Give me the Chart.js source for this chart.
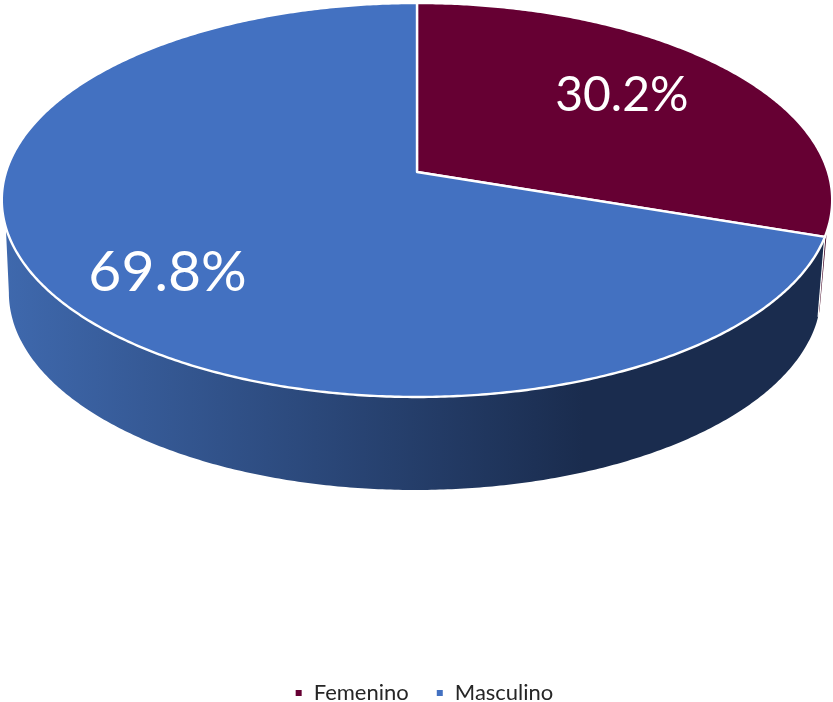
<!DOCTYPE html>
<html>
<head>
<meta charset="utf-8">
<style>
	html, body { margin: 0; padding: 0; background: #fff; }
	canvas { display: block; }
</style>
<script src="https://cdn.jsdelivr.net/npm/chart.js@4"></script>
</head>
<body>
<canvas id="sexChart" width="833" height="702"></canvas>
<script>
const categories = ['Femenino', 'Masculino'];
const sexValues = [30.2, 69.8];
const sliceColors = ['#660033', '#4371C1'];

const deg = Math.PI / 180;

// top face of the tilted pie, unit circle -> picture (perspective)
const top3d = { cx: 417, cy: 172, c: 411, a: 168.6, k: -0.142 };
// bottom rim of the side wall
const low3d = { cx: 415, cy: 265, c: 402, a: 155.4, k: -0.142 };

function project(p, angle, r) {
	const X = Math.cos(angle) * r;
	const Y = Math.sin(angle) * r;
	const d = 1 + p.k * Y;
	return { x: p.cx + p.c * X / d, y: (p.cy + p.a * Y) / d };
}

// angle measured clockwise from 12 o'clock
function fromTop(d) {
	return d * deg - Math.PI / 2;
}

function rim(ctx, p, from, to) {
	const steps = Math.max(2, Math.ceil(Math.abs(to - from) / (0.5 * deg)));
	for (let i = 0; i <= steps; i++) {
		const pt = project(p, from + (to - from) * i / steps, 1);
		ctx.lineTo(pt.x, pt.y);
	}
}

function wall(ctx, upFrom, upTo, lowFrom, lowTo, fill) {
	ctx.beginPath();
	rim(ctx, top3d, upFrom, upTo);
	rim(ctx, low3d, lowTo, lowFrom);
	ctx.closePath();
	ctx.fillStyle = fill;
	ctx.fill();
}

const pie3d = {
	id: 'pie3d',
	beforeDatasetsDraw(chart) {
		const ctx = chart.ctx;
		const arcs = chart.getDatasetMeta(0).data;
		const split = arcs[0].endAngle;

		ctx.save();

		const redWall = ctx.createLinearGradient(780, 0, 833, 0);
		redWall.addColorStop(0, '#4d0026');
		redWall.addColorStop(1, '#3d001f');
		wall(ctx, fromTop(94), split, fromTop(103), fromTop(105), redWall);

		const blueWall = ctx.createLinearGradient(0, 0, 833, 0);
		blueWall.addColorStop(0, '#3F69AE');
		blueWall.addColorStop(0.7, '#1A2C4E');
		blueWall.addColorStop(1, '#1A2C4E');
		wall(ctx, split, fromTop(254), fromTop(105), fromTop(262), blueWall);

		// white seam on the wall between the two slices
		const a = project(top3d, split, 1);
		const b = project(low3d, fromTop(105), 1);
		ctx.beginPath();
		ctx.moveTo(a.x, a.y);
		ctx.lineTo(b.x, b.y);
		ctx.strokeStyle = '#fff';
		ctx.lineWidth = 1.2;
		ctx.stroke();

		// top faces
		arcs.forEach(function(arc, i) {
			const c = project(top3d, 0, 0);
			ctx.beginPath();
			ctx.moveTo(c.x, c.y);
			rim(ctx, top3d, arc.startAngle, arc.endAngle);
			ctx.closePath();
			ctx.fillStyle = sliceColors[i];
			ctx.fill();
			ctx.strokeStyle = '#fff';
			ctx.lineWidth = 2.4;
			ctx.lineJoin = 'round';
			ctx.stroke();
		});

		// percentage labels
		const labelPos = [
			{ r: 0.673, shift: -2.7, size: 48 },
			{ r: 0.744, shift: -4.9, size: 57 }
		];
		ctx.fillStyle = '#fff';
		ctx.textAlign = 'center';
		ctx.textBaseline = 'middle';
		arcs.forEach(function(arc, i) {
			const mid = (arc.startAngle + arc.endAngle) / 2 + labelPos[i].shift * deg;
			const pt = project(top3d, mid, labelPos[i].r);
			ctx.font = labelPos[i].size + 'px Lato, Carlito, sans-serif';
			ctx.fillText(sexValues[i].toFixed(1) + '%', pt.x, pt.y);
		});

		ctx.restore();
		return false;
	}
};

document.addEventListener('DOMContentLoaded', function() {
	new Chart(document.getElementById('sexChart'), {
		type: 'pie',
		data: {
			labels: categories,
			datasets: [{
				data: sexValues,
				backgroundColor: sliceColors,
				borderColor: '#fff'
			}]
		},
		options: {
			responsive: false,
			animation: false,
			layout: { padding: { left: 15, bottom: -12 } },
			plugins: {
				tooltip: { enabled: false },
				legend: {
					position: 'bottom',
					labels: {
						boxWidth: 8,
						boxHeight: 8,
						padding: 27,
						color: '#262626',
						font: { family: 'Lato, Carlito, sans-serif', size: 22 }
					}
				}
			}
		},
		plugins: [pie3d]
	});
});
</script>
</body>
</html>
